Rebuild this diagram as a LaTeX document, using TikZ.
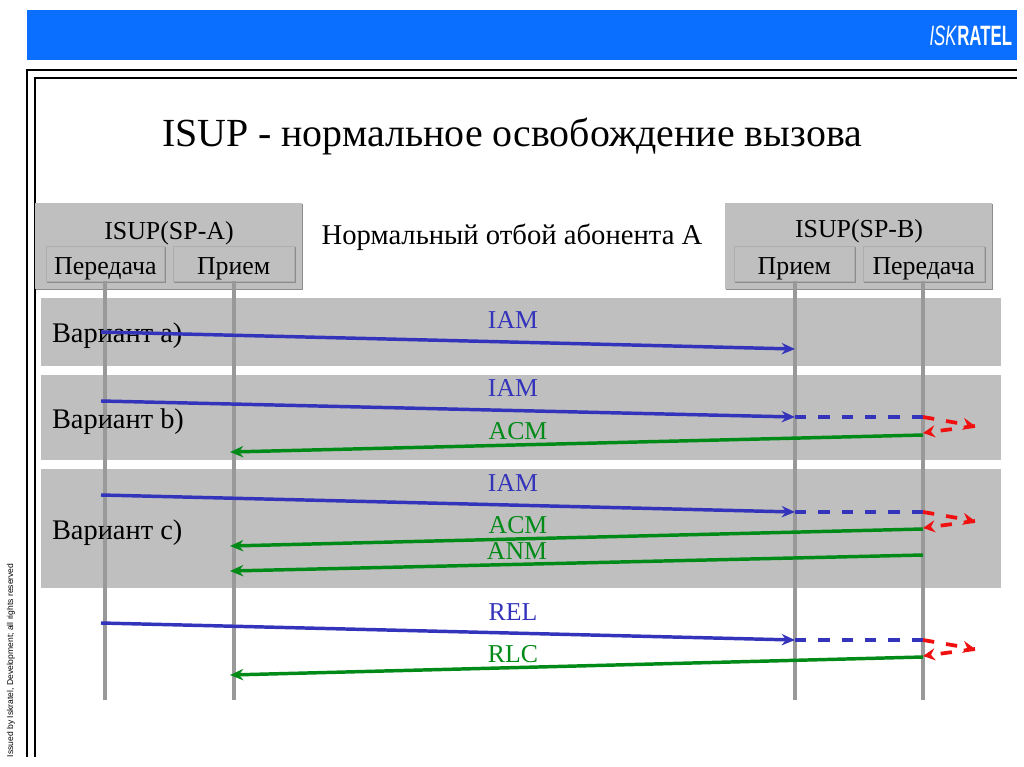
\documentclass[tikz,border=0pt]{standalone}
\usepackage{fontspec}
\setmainfont{Liberation Serif}
\newfontfamily\logofont{Liberation Sans}
\usetikzlibrary{arrows.meta, shadows}
\definecolor{barblue}{HTML}{0A6EFF}
\definecolor{bandgray}{HTML}{BFBFBF}
\definecolor{lifegray}{HTML}{999999}
\definecolor{sigblue}{HTML}{3333BB}
\definecolor{siggreen}{HTML}{008A17}
\definecolor{sigred}{HTML}{F01010}
\begin{document}
\begin{tikzpicture}[
  x=0.75pt, y=-0.75pt,
  every node/.style={inner sep=0pt, outer sep=0pt},
  band/.style={fill=bandgray, draw=none},
  box/.style={anchor=north west, fill=bandgray, draw=none, drop shadow={shadow xshift=1pt, shadow yshift=-1pt, fill=black!45, opacity=1}},
  subbox/.style={box, draw=black!32, line width=0.4pt, minimum height=26.5pt},
  boxtitle/.style={font=\fontsize{19.4}{21}\selectfont},
  vartext/.style={anchor=west, font=\fontsize{21.3}{24}\selectfont},
  siglabel/.style={font=\fontsize{19.3}{21}\selectfont},
  life/.style={lifegray, line width=3pt},
  frame/.style={black, line width=1.5pt},
  sig/.style={line width=2.6pt, -{Stealth[length=10pt, width=8.5pt]}},
  trail/.style={line width=2.8pt, dash pattern=on 8.5pt off 9pt}
]
  \useasboundingbox (0,0) rectangle (1024,767);
  \fill[white] (0,0) rectangle (1024,767);

  % top bar and frame
  \node[anchor=north west, fill=barblue, minimum width=742.5pt, minimum height=37.5pt] (bar) at (27,10) {};
  \node[anchor=east, text=white, xscale=.6, font=\logofont\fontsize{21}{21}\selectfont] (logo) at (1012,36) {\textit{ISK}\textbf{RATEL}};
  \coordinate (fa) at (27,757);
  \coordinate (fb) at (27,70);
  \coordinate (fc) at (1017,70);
  \coordinate (ga) at (35,757);
  \coordinate (gb) at (35,78);
  \coordinate (gc) at (1017,78);
  \draw[frame] (fa) -- (fb) -- (fc);
  \draw[frame] (ga) -- (gb) -- (gc);

  \node (title) at (512,136) {\fontsize{29.9}{33}\selectfont ISUP - нормальное освобождение вызова};
  \node[rotate=90, anchor=west, font=\logofont\fontsize{6.4}{7}\selectfont] (issued) at (11,757) {Issued by Iskratel, Development; all rights reserved};

  % bands
  \foreach \n/\ya/\h in {a/298/51, b/375/63.75, c/469/89.25}
    \node[band, anchor=north west, minimum width=720pt, minimum height=\h pt] (band\n) at (41,\ya) {};

  % endpoint boxes
  \node[box, minimum width=200pt, minimum height=64.5pt] (spa) at (35,203) {};
  \node[box, minimum width=200pt, minimum height=64.5pt] (spb) at (725,203) {};
  \node[boxtitle] (spat) at (169,233) {ISUP(SP-A)};
  \node[boxtitle] (spbt) at (859,231) {ISUP(SP-B)};
  \foreach \n/\x/\w/\t in {ta/46/89/Передача, ra/173/91/Прием, rb/734/90.5/Прием, tb/863/91/Передача} {
    \node[subbox, minimum width=\w pt] (\n) at (\x,246) {};
    \node[boxtitle] (\n t) at ([yshift=-3.5pt]\n) {\t};
  }

  \node[font=\fontsize{21.5}{24}\selectfont] (sub) at (512,237) {Нормальный отбой абонента А};

  % life lines
  \foreach \n/\x in {ta/105, ra/234, rb/795, tb/923} {
    \coordinate (\n end) at (\x,700);
    \draw[life] (\n.south -| \n end) -- (\n end);
  }

  \node[vartext] (vara) at (52,336) {Вариант a)};
  \node[vartext] (varb) at (52,422) {Вариант b)};
  \node[vartext] (varc) at (52,533) {Вариант c)};

  % messages to the right
  \foreach \n/\ya/\yb/\t/\yt in {ia/332/349/IAM/320, ib/401/417/IAM/388, ic/495/512/IAM/483, re/623/640/REL/612} {
    \coordinate (\n s) at (101,\ya);
    \coordinate (\n e) at (795,\yb);
    \draw[sig, sigblue] (\n s) -- (\n e);
    \node[siglabel, text=sigblue] (\n l) at (513,\yt) {\t};
  }

  % messages to the left
  \foreach \n/\ya/\yb/\t/\xt/\yt in {ab/435/452/ACM/518/431, ac/529/546/ACM/518/525, an/555/571/ANM/517/551, rl/657/675/RLC/513/654} {
    \coordinate (\n s) at (923,\ya);
    \coordinate (\n e) at (230,\yb);
    \draw[sig, siggreen] (\n s) -- (\n e);
    \node[siglabel, text=siggreen] (\n l) at (\xt,\yt) {\t};
  }

  % continuation and loop back
  \foreach \n/\y/\yr/\yb in {ib/417/426/433, ic/512/521/528, re/640/649/656} {
    \coordinate (\n c) at (923,\y);
    \coordinate (\n r) at (975,\yr);
    \coordinate (\n b) at (923,\yb);
    \draw[trail, sigblue] (\n e) -- (\n c);
    \draw[trail, sigred, -{Stealth[length=9pt, width=9pt]}] (\n c) -- (\n r);
    \draw[trail, sigred, -{Stealth[length=9pt, width=9pt]}] (\n r) -- (\n b);
  }
\end{tikzpicture}
\end{document}
